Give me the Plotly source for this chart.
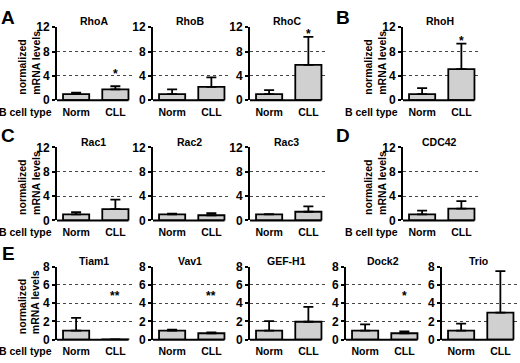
import plotly.graph_objects as go

# ---------------- data ----------------
genes = ["RhoA", "RhoB", "RhoC", "RhoH",
         "Rac1", "Rac2", "Rac3", "CDC42",
         "Tiam1", "Vav1", "GEF-H1", "Dock2", "Trio"]
categories = ["Norm", "CLL"]
norm_mean = [1.0, 1.0, 1.0, 1.0, 1.0, 1.0, 1.0, 1.0, 1.0, 1.0, 1.0, 1.0, 1.0]
norm_err = [0.26, 0.78, 0.68, 1.0, 0.37, 0.1, 0.05, 0.6, 1.38, 0.1, 1.03, 0.68, 0.75]
cll_mean = [1.78, 2.2, 5.82, 5.1, 1.85, 0.85, 1.43, 1.95, 0.02, 0.7, 1.96, 0.7, 2.95]
cll_err = [0.52, 1.57, 4.58, 4.2, 1.58, 0.35, 0.87, 1.22, 0.0, 0.1, 1.64, 0.2, 4.55]
sig_label = ["*", "", "*", "*", "", "", "", "", "**", "**", "", "*", ""]
sig_y = [4.75, None, 11.4, 10.2, None, None, None, None, 5.1, 5.1, None, 5.1, None]
y_max = [12, 12, 12, 12, 12, 12, 12, 12, 8, 8, 8, 8, 8]
y_ticks_12 = [0, 4, 8, 12]
y_ticks_8 = [0, 2, 4, 6, 8]
panel_letters = ["A", "B", "C", "D", "E"]

# ---------------- layout geometry (pixels) ----------------
W, H = 520, 363
col_left = {0: 57, 1: 153, 2: 250, 3: 346, 4: 442, "bd": 403}
row_top = {0: 21, 1: 146, 2: 270}
PW, PH = 76.5, 76
placement = [(0, 0), (0, 1), (0, 2), (0, "bd"),
             (1, 0), (1, 1), (1, 2), (1, "bd"),
             (2, 0), (2, 1), (2, 2), (2, 3), (2, 4)]
ytitle_panels = {0, 3, 4, 7, 8}
letter_pos = [(8, 11), (343, 11), (8, 134), (343, 134), (8, 256)]

FONT = "Arial, Liberation Sans, Helvetica, sans-serif"


def px_x(x):
    return x / W


def px_y(y):
    return 1 - y / H


fig = go.Figure()
annotations = []
shapes = []
layout = dict(
    width=W, height=H,
    margin=dict(l=0, r=0, t=0, b=0),
    paper_bgcolor="white", plot_bgcolor="white",
    showlegend=False,
    font=dict(family=FONT, color="black"),
)

for i, g in enumerate(genes):
    r, c = placement[i]
    left = col_left[c]
    top = row_top[r]
    bottom = top + PH
    n = i + 1
    xa = "x" if n == 1 else f"x{n}"
    ya = "y" if n == 1 else f"y{n}"
    xkey = "xaxis" if n == 1 else f"xaxis{n}"
    ykey = "yaxis" if n == 1 else f"yaxis{n}"

    fig.add_trace(go.Bar(
        x=[0, 1], y=[norm_mean[i], cll_mean[i]],
        width=0.667,
        marker=dict(color="#d0d0d0", line=dict(color="black", width=1.8)),
        error_y=dict(type="data", symmetric=False,
                     array=[norm_err[i], cll_err[i]], arrayminus=[0, 0],
                     color="black", thickness=1.8, width=5),
        xaxis=xa, yaxis=ya, hoverinfo="skip",
    ))

    layout[xkey] = dict(
        domain=[px_x(left), px_x(left + PW)],
        anchor=ya, range=[-0.487, 1.462],
        tickvals=[0, 1], ticktext=categories,
        showgrid=False, zeroline=False, showline=False,
        ticks="", ticklabelstandoff=4,
        tickfont=dict(family=FONT, size=10.5, color="black", weight="bold"),
        fixedrange=True,
    )
    layout[ykey] = dict(
        domain=[px_y(bottom), px_y(top)],
        anchor=xa, range=[0, y_max[i]],
        tickvals=y_ticks_12 if y_max[i] == 12 else y_ticks_8,
        showgrid=True, griddash="dot", gridcolor="#444444", gridwidth=1,
        zeroline=False, showline=True, linecolor="black", linewidth=2,
        ticks="outside", ticklen=3, tickwidth=2, tickcolor="black",
        ticklabelstandoff=0,
        tickfont=dict(family=FONT, size=12, color="black", weight="bold"),
        fixedrange=True,
    )
    # x axis base line (ends at the last bar, like the original)
    shapes.append(dict(type="line", xref=f"{xa} domain", yref=f"{ya} domain",
                       x0=0, x1=0.935, y0=0, y1=0,
                       line=dict(color="black", width=2)))
    # panel title
    annotations.append(dict(
        x=px_x(left + PW / 2 - 1.5), y=px_y(top - 6), xref="paper", yref="paper",
        text=f"<b>{g}</b>", showarrow=False, xanchor="center", yanchor="middle",
        font=dict(family=FONT, size=10.5, color="black")))
    # significance stars
    if sig_label[i]:
        annotations.append(dict(
            x=1, y=sig_y[i], xref=xa, yref=ya, text=f"<b>{sig_label[i]}</b>",
            showarrow=False, xanchor="center", yanchor="middle", yshift=-3,
            font=dict(family=FONT, size=12, color="black")))
    # y titles and "B cell type"
    if i in ytitle_panels:
        annotations.append(dict(
            x=px_x(left - 28), y=px_y(top + PH / 2 - 1), xref="paper", yref="paper",
            text="<b>normalized<br>mRNA levels</b>", textangle=-90,
            showarrow=False, xanchor="center", yanchor="middle", align="left",
            font=dict(family=FONT, size=10.5, color="black")))
        annotations.append(dict(
            x=px_x(left - 3), y=px_y(bottom + 12), xref="paper", yref="paper",
            text="<b>B cell type</b>", showarrow=False,
            xanchor="right", yanchor="middle",
            font=dict(family=FONT, size=10.5, color="black")))

for letter, (lx, ly) in zip(panel_letters, letter_pos):
    annotations.append(dict(
        x=px_x(lx), y=px_y(ly), xref="paper", yref="paper",
        text=f"<b>{letter}</b>", showarrow=False,
        xanchor="center", yanchor="middle",
        font=dict(family=FONT, size=19, color="black")))

layout["annotations"] = annotations
layout["shapes"] = shapes
fig.update_layout(**layout)
fig.write_html("out.html",
               config={"displayModeBar": False},
               post_script="document.body.style.margin='0';"
                           "document.body.style.padding='0';")
